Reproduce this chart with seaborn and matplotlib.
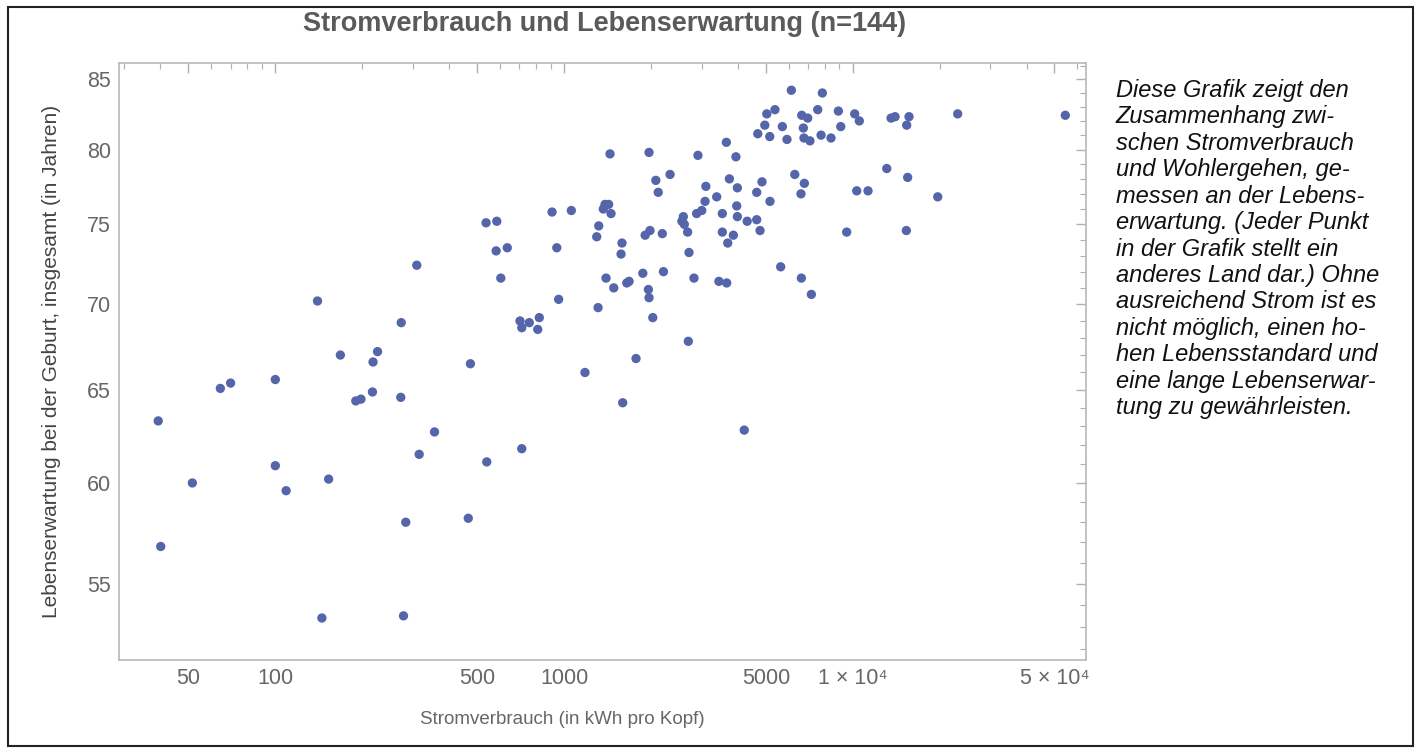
import matplotlib
matplotlib.use("Agg")
import matplotlib.pyplot as plt
import matplotlib.ticker as mticker
import seaborn as sns
import pandas as pd

# Stromverbrauch (kWh pro Kopf) und Lebenserwartung (Jahre)
strom = [140, 273, 168, 226, 218, 100, 309, 70, 64.5,
         190, 198, 217, 272, 39.3, 51.6, 100, 109, 153, 315, 283, 40.1, 145, 278,
         1443, 537, 585, 909, 1060, 1387, 1428, 1368, 1455, 1319, 1298, 582, 636, 944,
         1588, 1576, 604, 1398, 1487, 1680, 1650, 958, 1312, 704, 758, 821, 714, 811,
         1776, 474, 1182,
         6130, 7850, 5040, 5380, 4960, 4690, 5160, 5705, 5920, 6660, 6985, 6745, 6780,
         7110, 7565, 7770, 8410, 8920, 9090, 10160, 10540, 13580, 14020, 15670, 15380,
         23100, 54500, 13120, 15500, 11300, 10325, 19700, 15340, 9530, 6300, 6800, 6620,
         5630, 6640, 7190, 3650, 3940, 2910, 1970, 2330, 2080, 2120, 3100, 3740, 3985,
         4850, 4650, 5170, 3380, 3080, 3000, 2880, 3965, 2590, 2560, 2610, 2680, 3535,
         3985, 4310, 4650, 4775, 3535, 3860, 3690, 1910, 1985, 2190, 2710, 1875, 2210,
         1960, 1970, 2820, 3440, 3660, 2030, 2695, 4210,
         1597, 356, 714, 540, 466]
leben = [70.2, 68.9, 67.0, 67.2, 66.6, 65.6, 72.4, 65.4, 65.1,
         64.4, 64.5, 64.9, 64.6, 63.3, 60.0, 60.9, 59.6, 60.2, 61.5, 58.0, 56.8, 53.4, 53.5,
         79.7, 75.1, 75.2, 75.8, 75.9, 76.3, 76.3, 76.0, 75.7, 74.9, 74.2, 73.3, 73.5, 73.5,
         73.8, 73.1, 71.6, 71.6, 71.0, 71.4, 71.3, 70.3, 69.8, 69.0, 68.9, 69.2, 68.6, 68.5,
         66.8, 66.5, 66.0,
         84.2, 84.0, 82.5, 82.8, 81.7, 81.1, 80.9, 81.6, 80.7, 82.4, 82.2, 81.5, 80.8,
         80.6, 82.8, 81.0, 80.8, 82.7, 81.6, 82.5, 82.0, 82.2, 82.3, 82.3, 81.7,
         82.5, 82.4, 78.7, 78.1, 77.2, 77.2, 76.8, 74.6, 74.5, 78.3, 77.7, 77.0,
         72.3, 71.6, 70.6, 80.5, 79.5, 79.6, 79.8, 78.3, 77.9, 77.1, 77.5, 78.0, 77.4,
         77.8, 77.1, 76.5, 76.8, 76.5, 75.9, 75.7, 76.2, 75.5, 75.2, 75.0, 74.5, 75.7,
         75.5, 75.2, 75.3, 74.6, 74.5, 74.3, 73.8, 74.3, 74.6, 74.4, 73.2, 71.9, 72.0,
         70.9, 70.4, 71.6, 71.4, 71.3, 69.2, 67.8, 62.8,
         64.3, 62.7, 61.8, 61.1, 58.2]

x_ticks = [50, 100, 500, 1000, 5000, 10000, 50000]
x_labels = ["50", "100", "500", "1000", "5000", "1 × 10⁴", "5 × 10⁴"]
y_ticks = [55, 60, 65, 70, 75, 80, 85]

text_lines = [
    "Diese Grafik zeigt den",
    "Zusammenhang zwi-",
    "schen Stromverbrauch",
    "und Wohlergehen, ge-",
    "messen an der Lebens-",
    "erwartung. (Jeder Punkt",
    "in der Grafik stellt ein",
    "anderes Land dar.) Ohne",
    "ausreichend Strom ist es",
    "nicht möglich, einen ho-",
    "hen Lebensstandard und",
    "eine lange Lebenserwar-",
    "tung zu gewährleisten.",
]

df = pd.DataFrame({"strom": strom, "leben": leben})

sns.set_style("white")
plt.rcParams["font.family"] = ["Liberation Sans", "DejaVu Sans"]

fig = plt.figure(figsize=(14.23, 7.53), dpi=100)
ax = fig.add_axes([0.0838, 0.1235, 0.6794, 0.7928])

sns.scatterplot(data=df, x="strom", y="leben", ax=ax, color="#5565aa",
                s=45, edgecolor="none", linewidth=0)

ax.set_xscale("log")
ax.set_yscale("log")
ax.set_xlim(28.8, 64300)
ax.set_ylim(51.5, 86.2)

ax.xaxis.set_major_locator(mticker.FixedLocator(x_ticks))
ax.xaxis.set_major_formatter(mticker.FixedFormatter(x_labels))
ax.xaxis.set_minor_locator(mticker.LogLocator(base=10, subs=range(2, 10)))
ax.xaxis.set_minor_formatter(mticker.NullFormatter())
ax.yaxis.set_major_locator(mticker.FixedLocator(y_ticks))
ax.yaxis.set_major_formatter(mticker.FixedFormatter([str(v) for v in y_ticks]))
ax.yaxis.set_minor_locator(mticker.FixedLocator(list(range(52, 87))))
ax.yaxis.set_minor_formatter(mticker.NullFormatter())

ax.tick_params(which="both", direction="in", top=True, right=True,
               color="#b0b0b0", labelcolor="#666666", labelsize=15.5, pad=6)
ax.tick_params(which="major", length=7, width=1)
ax.tick_params(which="minor", length=4, width=0.8)
for sp in ax.spines.values():
    sp.set_color("#b8b8b8")
    sp.set_linewidth(1.2)

ax.set_xlabel("")
ax.set_ylabel("")
fig.text(0.395, 0.045, "Stromverbrauch (in kWh pro Kopf)", ha="center", va="center",
         fontsize=13.5, color="#666666")
fig.text(0.036, 0.52, "Lebenserwartung bei der Geburt, insgesamt (in Jahren)",
         ha="center", va="center", rotation=90, fontsize=15, color="#444444")
fig.text(0.4245, 0.968, "Stromverbrauch und Lebenserwartung (n=144)", ha="center",
         va="center", fontsize=19.5, fontweight="bold", color="#5a5a5a")

fig.text(0.784, 0.895, "\n".join(text_lines), ha="left", va="top", fontsize=17,
         style="italic", color="#111111", linespacing=1.19)

fig.patches.append(plt.Rectangle((8 / 1423, 7 / 753), 1405 / 1423, 739 / 753,
                                 transform=fig.transFigure, fill=False,
                                 edgecolor="#222222", linewidth=1.5))

fig.savefig("out.png", dpi=100)
